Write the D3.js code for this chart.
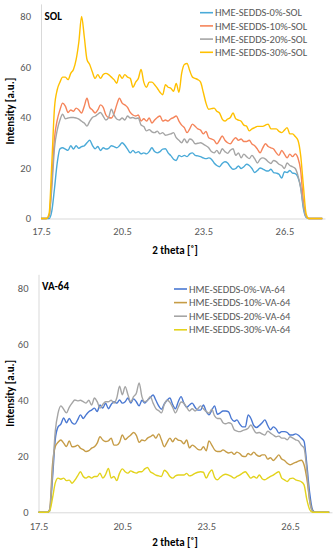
<!DOCTYPE html>
<html>
<head>
<meta charset="utf-8">
<script src="https://cdn.jsdelivr.net/npm/d3@7"></script>
<style>
  body { margin: 0; background: #fff; }
  svg { display: block; }
  text { font-family: Carlito, 'Liberation Sans Narrow', Lato, sans-serif; }
  .tick text { fill: #595959; font-size: 10.5px; }
  .axis path { stroke: #d9d9d9; }
  .title { font-weight: bold; font-size: 11px; fill: #000; }
  .legend text { fill: #595959; font-size: 10.5px; }
</style>
</head>
<body>
<div id="chart"></div>
<script>
// 2 theta grid, 17.5 .. 27.9 in steps of 0.1
const theta = [17.5,17.6,17.7,17.8,17.9,18.0,18.1,18.2,18.3,18.4,
  18.5,18.6,18.7,18.8,18.9,19.0,19.1,19.2,19.3,19.4,
  19.5,19.6,19.7,19.8,19.9,20.0,20.1,20.2,20.3,20.4,
  20.5,20.6,20.7,20.8,20.9,21.0,21.1,21.2,21.3,21.4,
  21.5,21.6,21.7,21.8,21.9,22.0,22.1,22.2,22.3,22.4,
  22.5,22.6,22.7,22.8,22.9,23.0,23.1,23.2,23.3,23.4,
  23.5,23.6,23.7,23.8,23.9,24.0,24.1,24.2,24.3,24.4,
  24.5,24.6,24.7,24.8,24.9,25.0,25.1,25.2,25.3,25.4,
  25.5,25.6,25.7,25.8,25.9,26.0,26.1,26.2,26.3,26.4,
  26.5,26.6,26.7,26.8,26.9,27.0,27.1,27.2,27.3,27.4,
  27.5,27.6,27.7,27.8,27.9];

const xTicks = [17.5, 20.5, 23.5, 26.5];
const yTicks = [0, 20, 40, 60, 80];

// SOL series
const sol0 = [0,0,0,0,3,12,22,27.6,28,27.5,
  27,28.8,27.5,28.8,27.8,28.5,28.8,30,31,29,
  27.6,28.5,26.9,28,27.5,27.8,28.8,28.5,28,28.8,
  30,29,27.5,26,27,26,26.5,25.6,26,25.6,
  26.5,28,26.5,26,26.5,27.5,27.6,26,24.9,23.5,
  23,25,24.5,25,24.5,25.6,26,25,24.8,24.5,
  24,23.7,24,23.5,22,21,20.5,21.8,22.5,22,
  20.5,19.5,19.8,20.8,19.8,20.5,21.5,21,19.8,18.2,
  19,20,19.6,19,18.8,19.5,18.2,18,17.5,16,
  18.5,18.2,19,18,17.8,16.3,12.5,4,0.5,0,
  0,0,0,0,0];
const sol10 = [0,0,0,1,15,32,39,43,45.7,44.5,
  42,43,42.5,43.7,43,41.8,44.5,47.6,44,43,
  41.8,43,45,44,41,40,39.8,41.5,45,47.6,
  45.7,45,44,42,41,40.6,41,38.6,39.5,38.6,
  39.8,37.8,39,40,40.6,38.6,39,38.6,39.5,40,
  40.6,38.6,37,36,34,35.5,37.4,36.5,35.5,35,
  33.5,34.5,32,31.5,31,29.6,31,32.7,31,30,
  29.6,31,32,31,31.5,30.5,30.5,31,29.5,28.8,
  27.5,26,28,29.6,28.5,28,27.5,26,25,27,
  25.5,24,25.5,24.5,25.6,24,19,7,1,0,
  0,0,0,0,0];
const sol20 = [0,0,0,1,12,28,35,39,41.3,39.5,
  39.8,40,40,39.8,39.4,38.5,37.8,36.6,38.5,40,
  40.5,41.3,42,40.5,39,40,43.3,41,39.4,39,
  39.8,39,40.6,39.8,40,39.6,39.8,37,36.4,34.7,
  35.2,34.3,34,34.6,33.5,34,33,33.2,33.5,34,
  32,31,30,31.5,30,31.5,31,29.6,29.8,30,
  29.5,28.8,28,26.5,26,27,25.6,27.6,26.5,25.8,
  27,27.6,25,26,24,25.5,24.5,23.7,25,23.7,
  22,23.5,24,23.5,22.5,21.8,23,22.5,21.5,21,
  19.8,22,21,20.5,19.8,17,12,5,0.5,0,
  0,0,0,0,0];
const sol30 = [0,0,0,2,22,44,51,54,56,56,
  55,57.5,59,63,70,80,72,63,61,58,
  55.5,57,55.5,57,57.5,57,56,55,53.6,57,
  55.5,57,56,55.5,52,54,55.5,59,54,52,
  54,54,53,51.6,50,49,53,52,51.6,50.4,
  53.5,50,57.5,61,61.4,58.5,56,55.5,55,54,
  50,45.7,43.3,43.5,43.7,42.5,41.8,39.4,38.6,39.4,
  40,41.8,39.5,39,38.5,37,36.6,34.7,35.5,36,
  36.5,36.5,36.5,37,37.4,35.5,35.5,35.5,34.5,34,
  35,36,33.5,33.5,32.5,31,25,13,2,0,
  0,0,0,0,0];

// VA-64 series
const va0 = [0,0,0,0,0.5,12,26,30.5,31.5,33.7,
  32,33.5,32,31.5,33,34.8,33.5,34.8,35.9,36.5,
  37.2,36,38.3,37.2,39,37,38.5,39.5,39,40.1,
  39,39.5,40.8,39,40.5,39.5,38,40,39,40,
  41,41.9,40,38,36.8,38.7,40,40.8,38.5,37,
  39.5,41.3,39,37.5,38.3,39,37.5,36.5,36.5,38.3,
  36,34.8,36.5,38,35,35.5,36.2,36.2,35.9,33.5,
  32.5,33,31.5,30.5,30.5,34.8,33.5,31,30.3,31,
  32,33,31,29.5,30.5,29.8,28.3,28.8,28.8,28.5,
  27.6,27.6,28,27.5,26.5,25.4,17,7,1,0,
  0,0,0,0,0];
const va10 = [0,0,0,0,1,17,23.5,25,25.8,24.7,
  23.5,25.5,23.4,23.5,24,22.9,22.4,21.7,22,22.9,
  23.4,24.7,27,25.8,25.3,25.5,26.5,24,24,25,
  27.6,26,26.8,27.6,28.5,27.5,25,25.8,25.5,26.5,
  27,27.6,26.5,28,25.8,23.4,25,26.5,25.2,26.5,
  25.8,25.5,24.5,25.8,23,24,23.4,22.5,22.3,23.4,
  22,25.5,24,22.3,21.7,21.7,22.3,21.7,21.2,21.5,
  20.7,21.5,21,20,19.9,21,20.5,21.5,20.5,20,
  20.5,20.5,19,19.5,18.5,19.5,20.5,19,18.5,17.5,
  17,17.4,17.8,18.3,18.6,17,12,4.5,0.5,0,
  0,0,0,0,0];
const va20 = [0,0,0,0,1,14,29,35.4,38,36.8,
  35.5,37.5,39,40.1,39.8,40,39.5,39,40,38.3,
  40.8,39.5,37.2,38.5,39.5,39.5,40,39,40.8,45,
  42,44.9,42,39.5,41.3,42.5,46.2,41.3,39.5,40,
  41.3,39,37,36.3,35.5,38.5,40,39.3,37.5,35.5,
  37.5,39.4,39,37.5,36.2,37,36.2,37,38,37,
  36,35.4,36.8,34.4,33.5,33.5,32,31.6,32,31.6,
  29.5,29,28.8,29.2,29.5,30,31.2,29.5,28.3,28.5,
  28,27.6,29,28.3,27.6,27,27.2,26.5,26.5,25.9,
  27,26.5,25.9,25.5,24,23,15,4,0.5,0,
  0,0,0,0,0];
const va30 = [0,0,0,0,0.5,5,10.5,12.2,11.8,12.2,
  11.3,11.5,10.4,11.5,13,14.5,12.8,12.2,12.8,12.2,
  12.8,12.8,14,12.2,13.5,15.7,12.2,12.8,11.3,14,
  15.5,14.5,14,14.8,14.3,14,14.5,14.5,15.5,16,
  14.5,13.9,13.3,13,12.8,15,14.3,12.8,12.2,13,
  13.3,13.3,13.3,13.9,13,13.3,13.9,14.3,14.5,14.3,
  12.2,14,15.1,12.5,11.6,12.5,13.3,13.6,13.3,12.8,
  12.2,12.8,13.3,14,14.5,13.3,12.2,12.8,12.2,13.3,
  12,11.6,12.2,12.8,13.3,14,14.5,12.2,11.6,11,
  12,12.2,11.6,11.3,10.9,9.8,4.5,1,0,0,
  0,0,0,0,0];

const solNames = ['HME-SEDDS-0%-SOL', 'HME-SEDDS-10%-SOL', 'HME-SEDDS-20%-SOL', 'HME-SEDDS-30%-SOL'];
const vaNames = ['HME-SEDDS-0%-VA-64', 'HME-SEDDS-10%-VA-64', 'HME-SEDDS-20%-VA-64', 'HME-SEDDS-30%-VA-64'];

const W = 335, H = 550;
const svg = d3.select('#chart').append('svg').attr('width', W).attr('height', H);

const panels = [
  {
    label: 'SOL', names: solNames, series: [sol0, sol10, sol20, sol30],
    colors: ['#4aaad8', '#f5845a', '#a5a5a5', '#ffc000'],
    left: 41, right: 325, top: 3.9, bottom: 218.5,
    legend: { x: 200, y: 12.7, step: 13.2 },
    xPad: 9.5, xTitleY: 254, yTitleX: 14
  },
  {
    label: 'VA-64', names: vaNames, series: [va0, va10, va20, va30],
    colors: ['#4a78d2', '#c69c46', '#a5a5a5', '#e3d31c'],
    left: 38.5, right: 332, top: 274.3, bottom: 512.3,
    legend: { x: 174, y: 289, step: 13.6 },
    xPad: 10.5, xTitleY: 546, yTitleX: 14
  }
];

panels.forEach(p => {
  const x = d3.scaleLinear().domain([17.5, 28]).range([p.left, p.right]);
  const y = d3.scaleLinear().domain([0, 85]).range([p.bottom, p.top]);

  // axes
  svg.append('g')
    .attr('class', 'axis')
    .attr('transform', `translate(0, ${p.bottom})`)
    .call(d3.axisBottom(x).tickValues(xTicks).tickFormat(d3.format('.1f')).tickSize(0).tickPadding(p.xPad));

  svg.append('g')
    .attr('class', 'axis')
    .attr('transform', `translate(${p.left}, 0)`)
    .call(d3.axisLeft(y).tickValues(yTicks).tickSize(0).tickPadding(10));

  svg.selectAll('.tick text').style('font-family', null);

  // lines
  const line = d3.line()
    .x((d, i) => x(theta[i]))
    .y(d => y(d))
    .curve(d3.curveMonotoneX);

  p.series.forEach((s, i) => {
    svg.append('path')
      .datum(s)
      .attr('fill', 'none')
      .attr('stroke', p.colors[i])
      .attr('stroke-width', 1.4)
      .attr('d', line);
  });

  // panel label
  svg.append('text')
    .attr('class', 'title')
    .attr('x', p.left + 3.5)
    .attr('y', p.top + 16)
    .text(p.label);

  // legend
  const lg = svg.append('g').attr('class', 'legend');
  p.names.forEach((n, i) => {
    const ly = p.legend.y + i * p.legend.step;
    lg.append('line')
      .attr('x1', p.legend.x).attr('x2', p.legend.x + 13)
      .attr('y1', ly).attr('y2', ly)
      .attr('stroke', p.colors[i]).attr('stroke-width', 1.6);
    lg.append('text')
      .attr('x', p.legend.x + 15)
      .attr('y', ly)
      .attr('dy', '0.35em')
      .text(n);
  });

  // axis titles
  svg.append('text')
    .attr('class', 'title')
    .attr('text-anchor', 'middle')
    .attr('x', 175)
    .attr('y', p.xTitleY)
    .text('2 theta [˚]');

  const midY = (p.top + p.bottom) / 2;
  svg.append('text')
    .attr('class', 'title')
    .attr('text-anchor', 'middle')
    .attr('transform', `translate(${p.yTitleX}, ${midY}) rotate(-90)`)
    .text('Intensity [a.u.]');
});
</script>
</body>
</html>
